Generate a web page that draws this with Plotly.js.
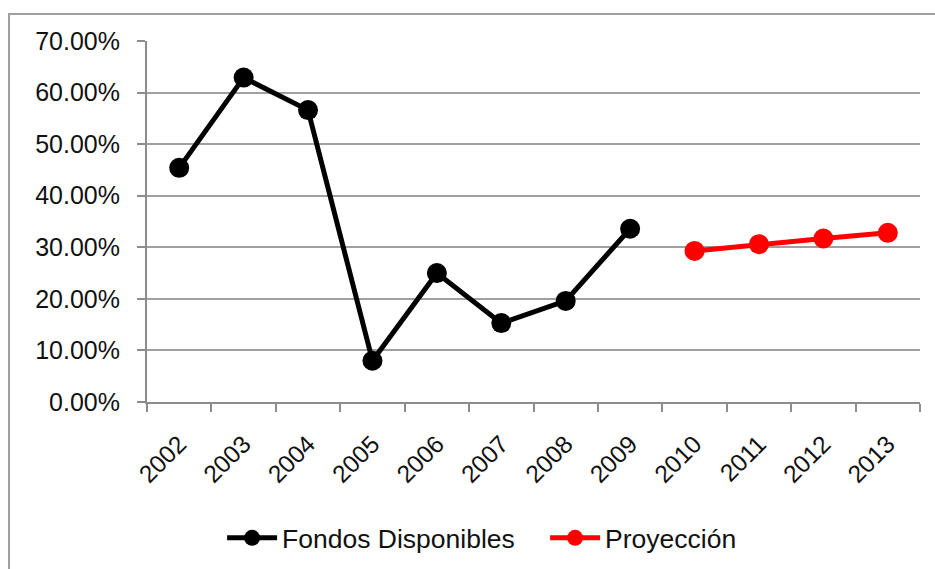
<!DOCTYPE html>
<html>
<head>
<meta charset="utf-8">
<script src="https://cdn.plot.ly/plotly-3.0.1.min.js"></script>
<style>
html,body{margin:0;padding:0;background:#fff;}
#chart{width:935px;height:569px;}
</style>
</head>
<body>
<div id="chart"></div>
<script>
const years = ["2002","2003","2004","2005","2006","2007","2008","2009","2010","2011","2012","2013"];
const histYears = ["2002","2003","2004","2005","2006","2007","2008","2009"];
const histValues = [0.454, 0.629, 0.566, 0.080, 0.250, 0.153, 0.196, 0.336];
const projYears = ["2010","2011","2012","2013"];
const projValues = [0.293, 0.306, 0.317, 0.328];
const yTicks = [0, 0.1, 0.2, 0.3, 0.4, 0.5, 0.6, 0.7];

const FONT = "Liberation Sans, Arial, sans-serif";

const traces = [
  {
    type: "scatter", mode: "lines+markers", name: "Fondos Disponibles",
    x: histYears, y: histValues,
    line: {color: "#000000", width: 5},
    marker: {color: "#000000", size: 20}
  },
  {
    type: "scatter", mode: "lines+markers", name: "Proyección",
    x: projYears, y: projValues,
    line: {color: "#ff0000", width: 5},
    marker: {color: "#ff0000", size: 20}
  }
];

const layout = {
  width: 935, height: 569,
  margin: {l: 147, r: 15, t: 41, b: 167, autoexpand: false},
  paper_bgcolor: "#ffffff",
  plot_bgcolor: "#ffffff",
  font: {family: FONT, size: 25, color: "#111111"},
  showlegend: true,
  legend: {
    orientation: "h", x: 0.515, xanchor: "center", y: -0.377, yanchor: "middle",
    font: {family: FONT, size: 26.5, color: "#111111"},
    itemwidth: 50, tracegroupgap: 0,
    entrywidthmode: "pixels", entrywidth: 258
  },
  xaxis: {
    type: "category", categoryorder: "array", categoryarray: years,
    range: [-0.5, 11.5], automargin: false,
    tickson: "boundaries", ticks: "outside", ticklen: 8, tickwidth: 2, tickcolor: "#8c8c8c",
    showline: true, linecolor: "#8c8c8c", linewidth: 2,
    showgrid: false, zeroline: false,
    tickangle: -45, ticklabelstandoff: 16,
    tickfont: {family: FONT, size: 24.5, color: "#111111"}
  },
  yaxis: {
    range: [0, 0.7], tickmode: "array", tickvals: yTicks, tickformat: ".2%",
    automargin: false,
    ticks: "outside", ticklen: 8, tickwidth: 2, tickcolor: "#8c8c8c",
    showline: true, linecolor: "#8c8c8c", linewidth: 2,
    showgrid: true, gridcolor: "#a0a0a0", gridwidth: 2,
    zeroline: false, ticklabelstandoff: 12,
    tickfont: {family: FONT, size: 25, color: "#111111"}
  },
  shapes: [
    {type: "rect", xref: "paper", yref: "paper",
     x0: -0.1785, x1: 1.1, y0: -0.6, y1: 1.0748,
     line: {color: "#a0a0a0", width: 2}, fillcolor: "rgba(0,0,0,0)", layer: "below"}
  ]
};

Plotly.newPlot("chart", traces, layout, {displayModeBar: false, staticPlot: true});
</script>
</body>
</html>
